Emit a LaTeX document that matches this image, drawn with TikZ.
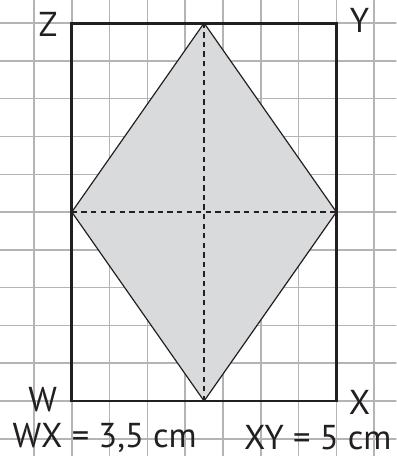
\documentclass[tikz,border=0pt]{standalone}
\usepackage{fontspec}
\setmainfont{PT Sans}
\usetikzlibrary{positioning}
\definecolor{gridgray}{RGB}{180,180,180}
\definecolor{shadegray}{RGB}{217,218,220}
\definecolor{inkdark}{RGB}{35,31,32}

\begin{document}
\begin{tikzpicture}[x=0.5cm,y=0.5cm,
    ptlabel/.style={text=inkdark,font=\fontsize{13}{15}\selectfont,inner sep=0pt},
    frame/.style={inkdark,line width=1.1pt},
    rhomb/.style={inkdark,line width=0.45pt,fill=shadegray,line join=miter},
    axis/.style={inkdark,line width=0.45pt,dash pattern=on 2pt off 1.6pt}]
    \useasboundingbox (-1.90,-1.455) rectangle (8.585,10.61);
    \clip (-1.90,-1.455) rectangle (8.585,10.61);
    % squared paper
    \draw[gridgray,line width=0.55pt,step=0.5cm] (-2,-2) grid (9,11);
    % rectangle corners and side midpoints
    \coordinate (W) at (0,0);
    \coordinate (X) at (7,0);
    \coordinate (Y) at (7,10);
    \coordinate (Z) at (0,10);
    \coordinate (mB) at (3.5,0);
    \coordinate (mR) at (7,5);
    \coordinate (mT) at (3.5,10);
    \coordinate (mL) at (0,5);
    % shaded rhombus with its diagonals
    \draw[rhomb] (mB) -- (mR) -- (mT) -- (mL) -- cycle;
    \draw[axis] (mB) -- (mT);
    \draw[axis] (mL) -- (mR);
    \draw[frame] (W) -- (X) -- (Y) -- (Z) -- cycle;
    % corner names
    \node[ptlabel] (lz) at (-0.63,9.97) {Z};
    \node[ptlabel] (ly) at (7.61,10.06) {Y};
    \node[ptlabel] (lw) at (-0.77,0.03) {W};
    \node[ptlabel] (lx) at (7.61,-0.05) {X};
    % lengths
    \node[ptlabel] (wx) at (0.87,-0.98) {WX = 3,5 cm};
    \node[ptlabel] (xy) at (6.51,-0.98) {XY = 5 cm};
\end{tikzpicture}
\end{document}
